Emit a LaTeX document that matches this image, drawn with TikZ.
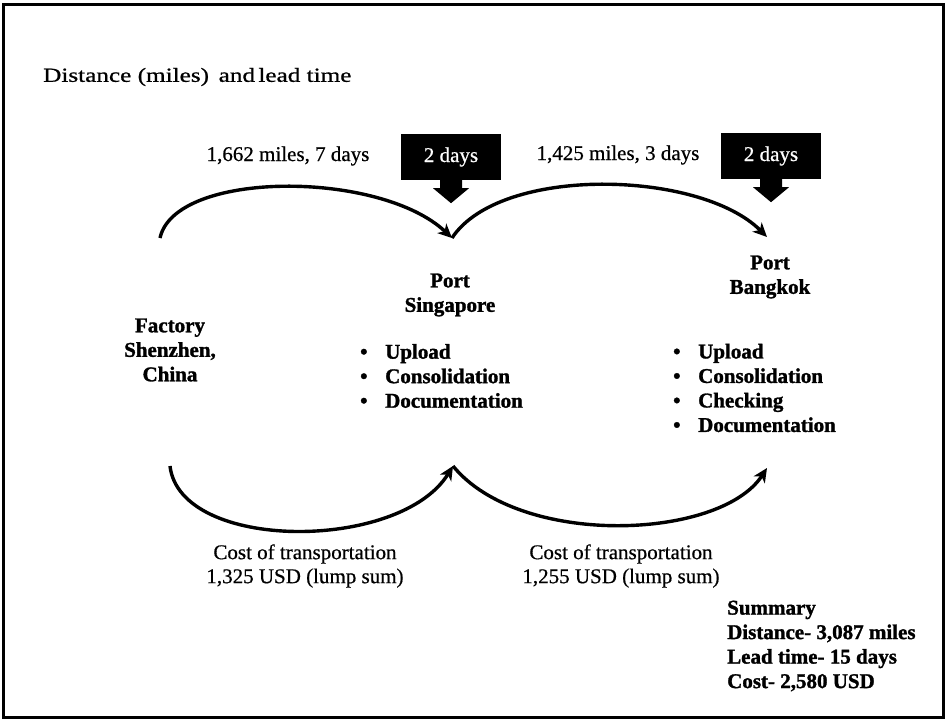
\documentclass[tikz,border=0pt]{standalone}
\usepackage{fontspec}
\setmainfont{Liberation Serif}[FakeBold=0.6,BoldFeatures={FakeBold=1.4}]
\newfontfamily\widefont[FakeStretch=1.26,FakeBold=0.8]{Liberation Serif}
\usetikzlibrary{positioning,arrows.meta}
\definecolor{ink}{HTML}{000000}

\begin{document}
\begin{tikzpicture}[x=1pt,y=-1pt,
    txt/.style={inner sep=0pt,color=ink,font=\fontsize{21}{24}\selectfont},
    bold/.style={txt,font=\fontsize{21}{24.5}\selectfont\bfseries},
    daybox/.style={fill=ink,minimum width=100pt,minimum height=46pt,inner sep=0pt,
      text=white,font=\fontsize{21}{24}\selectfont},
    leg/.style={ink,line width=3.4pt,-{Stealth[length=14pt,width=13pt,inset=4pt]}}]
        \useasboundingbox (0,0) rectangle (946,721);
        % frame
        \draw[ink,line width=3pt] (3,4) rectangle (943,717);
        \node[txt,anchor=west,font=\fontsize{20}{24}\widefont] (title) at (43,77) {Distance (miles)\, and\,lead time};
        % top labels
        \node[txt] (leg1) at (288,156) {1,662 miles, 7 days};
        \node[txt] (leg2) at (618,155) {1,425 miles, 3 days};
        \node[daybox] (d1) at (451,157) {2 days};
        \node[daybox] (d2) at (771,156) {2 days};
        \fill[ink] ([xshift=-11pt]d1.south) -- ++(0,8) -- ++(-7,0) -- ++(18,15) -- ++(18,-15) -- ++(-7,0) -- ++(0,-8) -- cycle;
        \fill[ink] ([xshift=-11pt]d2.south) -- ++(0,8) -- ++(-7,0) -- ++(18,15) -- ++(18,-15) -- ++(-7,0) -- ++(0,-8) -- cycle;
        % places
        \node[bold,align=center] (fac) at (170,350) {Factory\\Shenzhen,\\China};
        \node[bold,align=center] (sin) at (450,295) {Port\\Singapore};
        \node[bold,align=center] (bkk) at (770,277) {Port\\Bangkok};
        \node[bold,align=left,anchor=west] (sinlist) at (360,376)
          {\makebox[25pt][l]{\textbullet}Upload\\\makebox[25pt][l]{\textbullet}Consolidation\\\makebox[25pt][l]{\textbullet}Documentation};
        \node[bold,align=left,anchor=west] (bkklist) at (673,388)
          {\makebox[25pt][l]{\textbullet}Upload\\\makebox[25pt][l]{\textbullet}Consolidation\\\makebox[25pt][l]{\textbullet}Checking\\\makebox[25pt][l]{\textbullet}Documentation};
        % arcs
        \coordinate (fTop) at (160,238);
        \coordinate (sTop) at (452,238);
        \coordinate (bTop) at (767,237);
        \coordinate (fBot) at (170,466);
        \coordinate (sBot) at (453,466);
        \coordinate (bBot) at (767,468);
        \draw[leg] (fTop) .. controls (175,170) and (380,170) .. (sTop);
        \draw[leg] (sTop) .. controls (500,165) and (700,170) .. (bTop);
        \draw[leg] (fBot) .. controls (180,552) and (400,552) .. (sBot);
        \draw[leg] (sBot) .. controls (520,548) and (720,540) .. (bBot);
        % costs
        \node[txt,align=center] (cost1) at (305,566) {Cost of transportation\\1,325 USD (lump sum)};
        \node[txt,align=center] (cost2) at (621,566) {Cost of transportation\\1,255 USD (lump sum)};
        \node[bold,align=left,anchor=west] (summ) at (727,646)
          {Summary\\Distance- 3,087 miles\\Lead time- 15 days\\Cost- 2,580 USD};
      \end{tikzpicture}
\end{document}
